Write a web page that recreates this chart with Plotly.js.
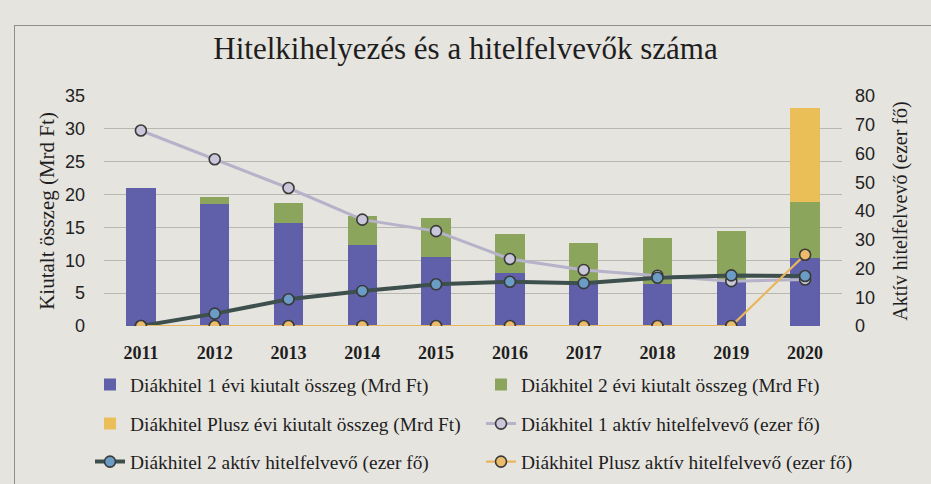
<!DOCTYPE html>
<html>
<head>
<meta charset="utf-8">
<script src="https://cdn.plot.ly/plotly-3.0.1.min.js"></script>
<style>
html,body{margin:0;padding:0;background:#e6e4df;}
#frame{position:absolute;left:14px;top:25px;width:940px;height:480px;border-left:1.5px solid #8e8d89;border-top:1.5px solid #8e8d89;}
#chart{position:absolute;left:0;top:0;width:931px;height:484px;}
</style>
</head>
<body>
<div id="frame"></div>
<div id="chart"></div>
<script>
const years = ['2011','2012','2013','2014','2015','2016','2017','2018','2019','2020'];
const dk1Amount = [21.0, 18.6, 15.6, 12.3, 10.5, 8.0, 6.5, 6.4, 6.7, 10.4];
const dk2Amount = [0.0, 1.0, 3.1, 4.4, 5.9, 6.0, 6.1, 7.0, 7.8, 8.5];
const plusAmount = [0, 0, 0, 0, 0, 0, 0, 0, 0, 14.3];
const dk1Active = [68, 58, 48, 37, 33, 23.3, 19.5, 17.5, 15.6, 16.2];
const dk2Active = [0, 4.3, 9.3, 12.2, 14.5, 15.4, 14.9, 16.8, 17.6, 17.4];
const plusActive = [0, 0, 0, 0, 0, 0, 0, 0, 0, 24.8];

const names = [
  'Diákhitel 1 évi kiutalt összeg (Mrd Ft)',
  'Diákhitel 2 évi kiutalt összeg (Mrd Ft)',
  'Diákhitel Plusz évi kiutalt összeg (Mrd Ft)',
  'Diákhitel 1 aktív hitelfelvevő (ezer fő)',
  'Diákhitel 2 aktív hitelfelvevő (ezer fő)',
  'Diákhitel Plusz aktív hitelfelvevő (ezer fő)'
];

const serif = 'Liberation Serif, Times New Roman, serif';
const narrow = 'Liberation Sans Narrow, Liberation Sans, Arial, sans-serif';
const mk = (fill) => ({symbol:'circle', size:11, color:fill, line:{color:'#3a3a3a', width:1.6}});

const traces = [
  {type:'bar', x:years, y:dk1Amount, name:names[0], marker:{color:'#5f60a9'}, legend:'legend'},
  {type:'bar', x:years, y:dk2Amount, name:names[1], marker:{color:'#8ca55c'}, legend:'legend2'},
  {type:'bar', x:years, y:plusAmount, name:names[2], marker:{color:'#ebbf58'}, legend:'legend3'},
  {type:'scatter', mode:'lines+markers', x:years, y:dk1Active, yaxis:'y2', name:names[3],
   line:{color:'#b5b2c9', width:3}, marker:mk('#c9c7d9'), legend:'legend4'},
  {type:'scatter', mode:'lines+markers', x:years, y:dk2Active, yaxis:'y2', name:names[4],
   line:{color:'#3e504d', width:4}, marker:mk('#6a9cc6'), legend:'legend5'},
  {type:'scatter', mode:'lines+markers', x:years, y:plusActive, yaxis:'y2', name:names[5],
   line:{color:'#e8b65c', width:2.2}, marker:mk('#ebbc6c'), legend:'legend6'}
];

const legBase = {orientation:'h', xref:'container', yref:'container',
  xanchor:'left', yanchor:'middle', bgcolor:'rgba(0,0,0,0)',
  font:{family:serif, size:19.4, color:'#1e1e1e'}};
const col1 = 90/931, col2 = 481/931;
const row1 = 1-385/484, row2 = 1-424/484, row3 = 1-462/484;

const layout = {
  width:931, height:484,
  paper_bgcolor:'rgba(0,0,0,0)', plot_bgcolor:'rgba(0,0,0,0)',
  margin:{l:104, r:89, t:96, b:158},
  barmode:'stack', bargap:0.6,
  title:{text:'Hitelkihelyezés és a hitelfelvevők száma', x:0.5, xanchor:'center', y:0.9, yanchor:'middle',
    font:{family:serif, size:31, color:'#1e1e1e'}},
  xaxis:{type:'category', range:[-0.5, 9.5], tickfont:{family:serif, size:18, color:'#1e1e1e', weight:'bold'},
    showgrid:false, showline:false, ticks:'', ticklabelstandoff:14, automargin:false},
  yaxis:{range:[0,35], dtick:5, tickfont:{family:narrow, size:18, color:'#222'},
    gridcolor:'#b9b7b2', gridwidth:1.2, zeroline:false, ticklabelstandoff:18, automargin:false,
    title:{text:'Kiutalt összeg (Mrd Ft)', font:{family:serif, size:21, color:'#1e1e1e'}, standoff:4}},
  yaxis2:{range:[0,80], dtick:10, overlaying:'y', side:'right', showgrid:false, zeroline:false,
    tickfont:{family:narrow, size:18, color:'#222'}, ticklabelstandoff:12, automargin:false,
    title:{text:'Aktív hitelfelvevő (ezer fő)', font:{family:serif, size:20, color:'#1e1e1e'}, standoff:18}},
  legend:Object.assign({}, legBase, {x:col1, y:row1}),
  legend2:Object.assign({}, legBase, {x:col2, y:row1}),
  legend3:Object.assign({}, legBase, {x:col1, y:row2}),
  legend4:Object.assign({}, legBase, {x:col2, y:row2}),
  legend5:Object.assign({}, legBase, {x:col1, y:row3}),
  legend6:Object.assign({}, legBase, {x:col2, y:row3}),
  showlegend:true
};

Plotly.newPlot('chart', traces, layout, {displayModeBar:false, staticPlot:true});
</script>
</body>
</html>
